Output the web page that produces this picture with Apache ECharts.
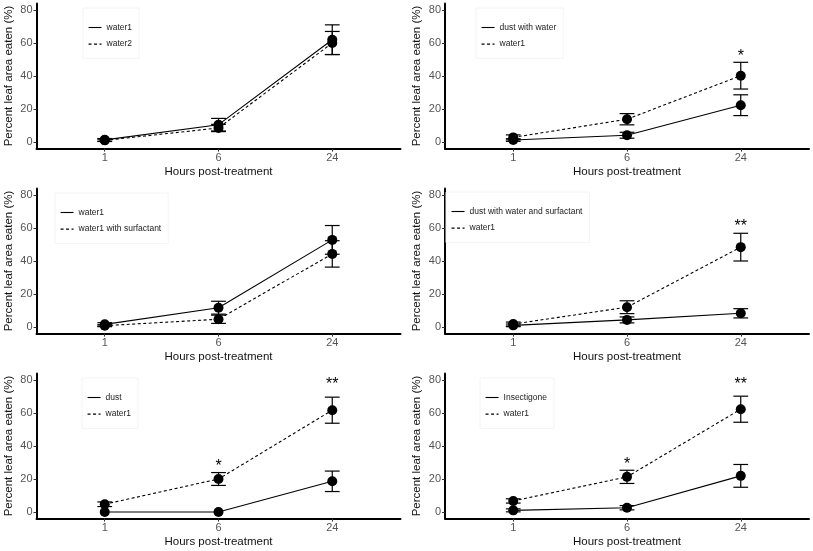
<!DOCTYPE html>
<html><head><meta charset="utf-8">
<script src="https://cdn.jsdelivr.net/npm/echarts@6/dist/echarts.min.js"></script>
<style>html,body{margin:0;padding:0;background:#fff}#c{width:813px;height:551px}</style>
</head><body><div id="c"></div><script>
// ---------- data ----------
const hours = ['1', '6', '24'];
const yTicks = [0, 20, 40, 60, 80];

// panel 1
const p1SolidName = 'water1';
const p1DashedName = 'water2';
const p1Solid = [1.3, 10.5, 62.0];
const p1SolidErr = [0.8, 3.8, 9.0];
const p1Dashed = [1.0, 8.5, 60.0];
const p1DashedErr = [0.7, 2.2, 7.0];
const p1StarText = ['', '', ''];
const p1StarY = [null, null, null];

// panel 2
const p2SolidName = 'dust with water';
const p2DashedName = 'water1';
const p2Solid = [1.2, 4.1, 22.3];
const p2SolidErr = [0.8, 1.8, 6.3];
const p2Dashed = [2.8, 13.8, 40.2];
const p2DashedErr = [1.5, 3.4, 8.1];
const p2StarText = ['', '', '*'];
const p2StarY = [null, null, 54.4];

// panel 3
const p3SolidName = 'water1';
const p3DashedName = 'water1 with surfactant';
const p3Solid = [1.6, 11.7, 52.8];
const p3SolidErr = [1.0, 3.9, 8.7];
const p3Dashed = [0.8, 4.7, 44.3];
const p3DashedErr = [0.6, 2.5, 8.0];
const p3StarText = ['', '', ''];
const p3StarY = [null, null, null];

// panel 4
const p4SolidName = 'dust with water and surfactant';
const p4DashedName = 'water1';
const p4Solid = [1.0, 4.3, 8.3];
const p4SolidErr = [0.8, 1.8, 2.8];
const p4Dashed = [1.8, 12.0, 48.4];
const p4DashedErr = [1.2, 3.9, 8.4];
const p4StarText = ['', '', '**'];
const p4StarY = [null, null, 63.4];

// panel 5
const p5SolidName = 'dust';
const p5DashedName = 'water1';
const p5Solid = [0.0, 0.0, 18.6];
const p5SolidErr = [0.0, 0.0, 6.2];
const p5Dashed = [4.7, 20.0, 61.7];
const p5DashedErr = [1.4, 3.9, 7.9];
const p5StarText = ['', '*', '**'];
const p5StarY = [null, 30.0, 79.6];

// panel 6
const p6SolidName = 'Insectigone';
const p6DashedName = 'water1';
const p6Solid = [1.0, 2.6, 21.9];
const p6SolidErr = [0.9, 1.3, 6.9];
const p6Dashed = [6.7, 21.3, 62.3];
const p6DashedErr = [1.3, 4.0, 7.9];
const p6StarText = ['', '*', '**'];
const p6StarY = [null, 31.4, 79.6];

const panels = [
  [p1SolidName, p1DashedName, p1Solid, p1SolidErr, p1Dashed, p1DashedErr, p1StarText, p1StarY],
  [p2SolidName, p2DashedName, p2Solid, p2SolidErr, p2Dashed, p2DashedErr, p2StarText, p2StarY],
  [p3SolidName, p3DashedName, p3Solid, p3SolidErr, p3Dashed, p3DashedErr, p3StarText, p3StarY],
  [p4SolidName, p4DashedName, p4Solid, p4SolidErr, p4Dashed, p4DashedErr, p4StarText, p4StarY],
  [p5SolidName, p5DashedName, p5Solid, p5SolidErr, p5Dashed, p5DashedErr, p5StarText, p5StarY],
  [p6SolidName, p6DashedName, p6Solid, p6SolidErr, p6Dashed, p6DashedErr, p6StarText, p6StarY]
];

// ---------- layout ----------
const FONT = 'Liberation Sans, Arial, Helvetica, sans-serif';
const colLeft = [36.5, 445];
const rowTop = [3.4, 188.4, 373.4];
const plotW = 364, plotH = 145.2;
const legendPos = [[83, 8], [476, 8], [55, 193], [446, 192], [82, 378], [480, 378]];
const DASH = [3, 2.5];

const grids = [], xAxes = [], yAxes = [], legends = [], series = [];

function errRender(params, api) {
  const x = api.value(0), lo = api.value(1), hi = api.value(2);
  if (hi - lo <= 0) return null;
  const t = api.coord([x, hi]), b = api.coord([x, lo]);
  const hw = api.size([0.13, 0])[0] / 2;
  const st = { stroke: '#000', lineWidth: 1.2 };
  return {
    type: 'group', children: [
      { type: 'line', shape: { x1: t[0], y1: t[1], x2: b[0], y2: b[1] }, style: st },
      { type: 'line', shape: { x1: t[0] - hw, y1: t[1], x2: t[0] + hw, y2: t[1] }, style: st },
      { type: 'line', shape: { x1: b[0] - hw, y1: b[1], x2: b[0] + hw, y2: b[1] }, style: st }
    ]
  };
}

panels.forEach((p, i) => {
  const [sName, dName, sVals, sErr, dVals, dErr, starText, starY] = p;
  const col = i % 2, row = Math.floor(i / 2);
  grids.push({ left: colLeft[col], top: rowTop[row], width: plotW, height: plotH, containLabel: false });
  xAxes.push({
    type: 'value', gridIndex: i, min: 0.4, max: 3.6,
    axisLine: { show: true, onZero: false, lineStyle: { color: '#000', width: 2 } },
    axisTick: { show: true, length: 3, customValues: hours.map((h, j) => j + 1), lineStyle: { color: '#333', width: 1 } },
    axisLabel: { customValues: hours.map((h, j) => j + 1), formatter: v => hours[Math.round(v) - 1],
      color: '#555', fontSize: 11, margin: 4, fontFamily: FONT },
    splitLine: { show: false },
    name: 'Hours post-treatment', nameLocation: 'middle', nameGap: 17,
    nameTextStyle: { color: '#111', fontSize: 11.5, fontFamily: FONT }
  });
  yAxes.push({
    type: 'value', gridIndex: i, min: -4, max: 84,
    axisLine: { show: true, onZero: false, lineStyle: { color: '#000', width: 2 } },
    axisTick: { show: true, length: 3, customValues: yTicks, lineStyle: { color: '#333', width: 1 } },
    axisLabel: { customValues: yTicks, color: '#555', fontSize: 11, margin: 4, fontFamily: FONT },
    splitLine: { show: false },
    name: 'Percent leaf area eaten (%)', nameLocation: 'middle', nameRotate: 90, nameGap: 22,
    nameTextStyle: { color: '#111', fontSize: 11.5, fontFamily: FONT }
  });
  const sKey = 'p' + i + '|' + sName, dKey = 'p' + i + '|' + dName;
  legends.push({
    show: true, orient: 'vertical', left: legendPos[i][0], top: legendPos[i][1],
    padding: [15, 7, 10, 5], itemWidth: 13, itemHeight: 8, itemGap: 7.6,
    borderColor: '#f4f4f4', borderWidth: 1, backgroundColor: '#fff',
    selectedMode: false,
    data: [
      { name: sKey, lineStyle: { type: 'solid', width: 1.1, color: '#000' } },
      { name: dKey, lineStyle: { type: DASH, width: 1.1, color: '#000' } }
    ],
    formatter: n => n.split('|')[1],
    itemStyle: { opacity: 0 },
    textStyle: { fontSize: 8.5, color: '#222', fontFamily: FONT }
  });
  // error bars
  [[sVals, sErr], [dVals, dErr]].forEach(([vals, errs]) => {
    series.push({
      type: 'custom', xAxisIndex: i, yAxisIndex: i, silent: true, z: 2,
      data: vals.map((v, j) => [j + 1, v - errs[j], v + errs[j]]),
      renderItem: errRender
    });
  });
  // lines with points
  series.push({
    type: 'line', name: sKey, xAxisIndex: i, yAxisIndex: i, z: 3,
    data: sVals.map((v, j) => [j + 1, v]),
    symbol: 'circle', symbolSize: 10, itemStyle: { color: '#000' },
    lineStyle: { color: '#000', width: 1.1, type: 'solid' }
  });
  series.push({
    type: 'line', name: dKey, xAxisIndex: i, yAxisIndex: i, z: 3,
    data: dVals.map((v, j) => [j + 1, v]),
    symbol: 'circle', symbolSize: 10, itemStyle: { color: '#000' },
    lineStyle: { color: '#000', width: 1.1, type: DASH }
  });
  // significance stars
  const starIdx = starText.map((t, j) => j).filter(j => starText[j]);
  if (starIdx.length) {
    series.push({
      type: 'custom', xAxisIndex: i, yAxisIndex: i, silent: true, z: 4,
      data: starIdx.map(j => [j + 1, starY[j]]),
      renderItem: (params, api) => {
        const c = api.coord([api.value(0), api.value(1)]);
        const txt = starText[starIdx[params.dataIndex]];
        return { type: 'text', x: c[0], y: c[1] + 4,
          style: { text: txt, fontSize: 16, fontFamily: FONT, fill: '#000', align: 'center', verticalAlign: 'middle' } };
      }
    });
  }
});

const chart = echarts.init(document.getElementById('c'), null, { renderer: 'canvas' });
chart.setOption({
  animation: false,
  backgroundColor: '#fff',
  grid: grids, xAxis: xAxes, yAxis: yAxes, legend: legends, series: series
});
</script></body></html>
